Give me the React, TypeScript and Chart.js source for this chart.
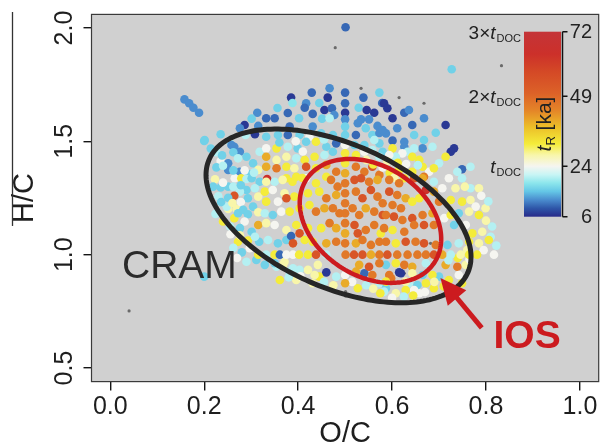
import { useEffect, useRef } from "react";
import { Chart, registerables } from "chart.js";

Chart.register(...registerables);

const FONT = "'Liberation Sans', Arial, Helvetica, sans-serif";

// Axis ticks and limits
const xTicks = [0, 0.2, 0.4, 0.6, 0.8, 1.0];
const yTicks = [0.5, 1.0, 1.5, 2.0];
const xLimits = [-0.04, 1.04];
const yLimits = [0.44, 2.06];

// Colour bar (t_R in ka)
const colorbarTicks = [6, 24, 49, 72];
const colorbarRange = [6, 72];
const docMultiples = [
  { value: 72, prefix: "3×" },
  { value: 49, prefix: "2×" },
  { value: 24, prefix: "" },
];

// Colour ramp for t_R
const rampStops = [6, 9, 12, 15, 18, 21, 24, 28, 32, 38, 44, 50, 58, 64, 72];
const rampColors = [
  [40, 42, 138], [46, 86, 168], [74, 140, 206], [100, 198, 230], [140, 230, 236],
  [200, 245, 245], [245, 245, 240], [248, 246, 170], [244, 236, 58], [236, 190, 40],
  [228, 132, 40], [220, 98, 40], [212, 72, 38], [204, 48, 42], [196, 52, 56],
];

// Samples: [O/C, H/C, t_R (ka)]
const bluePlume = [
  [0.158, 1.685, 12], [0.168, 1.668, 12], [0.177, 1.648, 12], [0.189, 1.626, 12],
  [0.501, 2.003, 10], [0.727, 1.818, 16],
  [0.429, 1.715, 10], [0.467, 1.734, 12], [0.385, 1.693, 7], [0.417, 1.668, 12], [0.463, 1.693, 7],
  [0.539, 1.693, 10], [0.573, 1.715, 16],
  [0.332, 1.602, 10], [0.350, 1.602, 10], [0.356, 1.647, 16], [0.378, 1.625, 10], [0.388, 1.669, 18],
  [0.414, 1.648, 10], [0.431, 1.621, 10], [0.445, 1.669, 16], [0.456, 1.638, 7], [0.472, 1.646, 10],
  [0.477, 1.616, 12], [0.529, 1.648, 16], [0.546, 1.638, 7], [0.562, 1.626, 7], [0.579, 1.669, 10],
  [0.534, 1.597, 12], [0.551, 1.597, 12], [0.402, 1.602, 16], [0.451, 1.600, 16], [0.467, 1.602, 20],
  [0.382, 1.565, 10], [0.431, 1.565, 12], [0.527, 1.580, 12], [0.544, 1.558, 16], [0.569, 1.568, 12],
  [0.523, 1.528, 10], [0.558, 1.528, 16], [0.573, 1.537, 12],
  [0.313, 1.626, 12], [0.301, 1.600, 16], [0.286, 1.572, 7], [0.276, 1.558, 12], [0.235, 1.531, 16],
  [0.200, 1.502, 16], [0.253, 1.502, 20], [0.288, 1.528, 20], [0.308, 1.531, 7], [0.315, 1.568, 12],
  [0.583, 1.668, 7], [0.590, 1.646, 7], [0.626, 1.626, 10], [0.636, 1.638, 12], [0.668, 1.602, 12],
  [0.601, 1.602, 7], [0.643, 1.572, 10], [0.611, 1.558, 12], [0.714, 1.572, 7], [0.693, 1.538, 16],
  [0.647, 1.528, 16], [0.587, 1.535, 12], [0.668, 1.506, 16], [0.686, 1.476, 20], [0.601, 1.503, 10],
  [0.626, 1.498, 12], [0.573, 1.491, 16], [0.626, 1.476, 12], [0.665, 1.469, 12], [0.732, 1.469, 7],
  [0.725, 1.454, 7], [0.749, 1.377, 10], [0.767, 1.388, 20], [0.580, 1.454, 16],
];

const cramFringe = [
  [0.318, 1.454, 20], [0.264, 1.476, 12], [0.276, 1.454, 12], [0.290, 1.432, 16], [0.304, 1.403, 16],
  [0.235, 1.413, 24], [0.251, 1.403, 12], [0.251, 1.374, 12], [0.276, 1.366, 12], [0.295, 1.356, 16],
  [0.315, 1.374, 28], [0.223, 1.333, 28], [0.265, 1.337, 24], [0.279, 1.337, 32], [0.201, 1.506, 16],
  [0.258, 1.484, 12],
  [0.290, 1.334, 20], [0.301, 1.337, 16], [0.318, 1.322, 16], [0.235, 1.296, 16], [0.251, 1.300, 16],
  [0.290, 1.285, 16], [0.308, 1.293, 20], [0.276, 1.278, 20], [0.264, 1.260, 54], [0.251, 1.251, 16],
  [0.293, 1.249, 16], [0.315, 1.256, 28], [0.251, 1.202, 28], [0.269, 1.202, 28], [0.304, 1.212, 16],
  [0.293, 1.178, 16], [0.315, 1.187, 28], [0.264, 1.161, 32], [0.286, 1.146, 24], [0.315, 1.131, 40],
  [0.276, 1.117, 16], [0.301, 1.101, 16], [0.293, 1.062, 32], [0.317, 1.057, 16], [0.200, 0.903, 16],
  [0.219, 1.300, 16], [0.248, 1.212, 20], [0.272, 1.183, 16], [0.240, 1.146, 32], [0.255, 1.124, 20],
  [0.308, 1.079, 20], [0.272, 1.057, 32], [0.297, 1.028, 24], [0.290, 0.969, 20], [0.311, 0.977, 16],
  [0.329, 0.955, 16], [0.354, 0.947, 20], [0.371, 0.969, 28], [0.382, 0.925, 20], [0.421, 0.933, 28],
  [0.445, 0.903, 32], [0.361, 0.888, 32], [0.396, 0.888, 28], [0.431, 0.874, 28], [0.481, 0.903, 20],
  [0.527, 0.852, 32], [0.541, 0.918, 10], [0.573, 0.874, 20], [0.598, 0.896, 46], [0.619, 0.918, 7],
  [0.587, 0.852, 16], [0.636, 0.874, 20], [0.672, 0.874, 32], [0.689, 0.852, 32], [0.700, 0.903, 16],
  [0.658, 0.830, 24], [0.334, 1.334, 64],
  [0.332, 1.520, 16], [0.357, 1.528, 16], [0.378, 1.528, 10], [0.403, 1.528, 16], [0.424, 1.520, 24],
  [0.449, 1.535, 16], [0.474, 1.528, 16], [0.562, 1.506, 20], [0.580, 1.550, 12], [0.332, 1.469, 24],
  [0.354, 1.469, 32], [0.378, 1.476, 20], [0.399, 1.469, 16], [0.417, 1.498, 16], [0.438, 1.498, 32],
  [0.460, 1.476, 16], [0.481, 1.491, 10], [0.520, 1.484, 16], [0.541, 1.484, 16], [0.558, 1.462, 20],
  [0.332, 1.432, 40], [0.354, 1.418, 28], [0.375, 1.432, 28], [0.396, 1.425, 20], [0.414, 1.418, 32],
  [0.435, 1.432, 32], [0.456, 1.440, 20], [0.474, 1.454, 16], [0.523, 1.440, 32], [0.541, 1.454, 24],
  [0.573, 1.432, 20], [0.332, 1.388, 40], [0.354, 1.381, 46], [0.375, 1.388, 32], [0.392, 1.381, 28],
  [0.417, 1.388, 54], [0.438, 1.381, 32], [0.460, 1.396, 40], [0.481, 1.366, 46], [0.523, 1.388, 46],
  [0.541, 1.366, 46], [0.558, 1.388, 54], [0.573, 1.352, 46], [0.375, 1.337, 32], [0.396, 1.344, 32],
  [0.417, 1.337, 24], [0.460, 1.344, 32],
  [0.601, 1.469, 32], [0.633, 1.454, 20], [0.647, 1.469, 20], [0.714, 1.432, 32], [0.700, 1.403, 20],
  [0.679, 1.366, 24], [0.689, 1.381, 32], [0.739, 1.366, 20], [0.721, 1.337, 24], [0.658, 1.418, 32],
  [0.643, 1.432, 32], [0.622, 1.447, 24], [0.608, 1.432, 20], [0.594, 1.440, 24], [0.665, 1.388, 32],
  [0.643, 1.366, 32], [0.668, 1.344, 46], [0.615, 1.374, 32], [0.626, 1.337, 32],
  [0.689, 1.322, 20], [0.749, 1.337, 20], [0.767, 1.293, 20], [0.785, 1.293, 28], [0.707, 1.293, 24],
  [0.735, 1.293, 28], [0.725, 1.241, 32], [0.749, 1.234, 32], [0.767, 1.241, 28], [0.799, 1.205, 28],
  [0.778, 1.212, 24], [0.711, 1.161, 24], [0.725, 1.175, 32], [0.742, 1.183, 16], [0.764, 1.190, 28],
  [0.785, 1.175, 32], [0.813, 1.124, 20], [0.732, 1.131, 16], [0.757, 1.131, 24], [0.771, 1.094, 32],
  [0.792, 1.101, 28], [0.810, 1.079, 20], [0.718, 1.043, 16], [0.742, 1.050, 20], [0.764, 1.057, 32],
  [0.785, 1.050, 28], [0.806, 1.065, 32], [0.714, 0.955, 40], [0.739, 0.947, 46], [0.757, 0.955, 28],
  [0.742, 0.910, 24], [0.749, 0.874, 32], [0.721, 0.888, 32],
  [0.587, 0.955, 16], [0.608, 0.962, 32], [0.626, 0.955, 46], [0.643, 0.947, 40], [0.672, 0.962, 20],
  [0.615, 0.922, 7], [0.594, 0.910, 46], [0.643, 0.918, 28], [0.665, 0.910, 16], [0.686, 0.910, 32],
  [0.587, 0.881, 32], [0.629, 0.881, 28], [0.654, 0.866, 16], [0.647, 0.844, 24], [0.583, 0.837, 20],
  [0.608, 0.830, 28], [0.629, 0.844, 32],
  [0.368, 0.955, 28], [0.403, 0.933, 20], [0.442, 0.955, 28], [0.460, 0.922, 7], [0.530, 0.955, 40],
  [0.551, 0.947, 54], [0.573, 0.962, 46], [0.523, 0.925, 40], [0.558, 0.910, 46], [0.435, 0.910, 28],
  [0.350, 0.962, 16], [0.389, 0.940, 20],
];

// Further formulas on the diagonal series fanning out from the core
const crossSpokes = [
  [0.214, 1.468, 16], [0.226, 1.452, 20], [0.238, 1.438, 16], [0.262, 1.452, 16], [0.272, 1.425, 20],
  [0.226, 1.385, 16], [0.240, 1.392, 20], [0.262, 1.372, 16], [0.286, 1.372, 24], [0.306, 1.362, 20],
  [0.240, 1.318, 24], [0.262, 1.300, 20], [0.278, 1.306, 16], [0.230, 1.258, 20], [0.278, 1.232, 24],
  [0.236, 1.232, 16], [0.260, 1.228, 28], [0.283, 1.198, 16], [0.224, 1.180, 20], [0.256, 1.090, 24],
  [0.276, 1.085, 28], [0.262, 1.030, 20], [0.280, 1.010, 16], [0.270, 0.985, 24],
  [0.395, 1.500, 24], [0.360, 1.495, 16], [0.455, 1.508, 20], [0.590, 1.412, 28], [0.612, 1.405, 32],
  [0.630, 1.400, 24], [0.655, 1.395, 20], [0.410, 1.455, 24], [0.545, 1.418, 28], [0.560, 1.398, 32],
  [0.580, 1.385, 24], [0.595, 1.360, 32], [0.605, 1.340, 28],
  [0.455, 0.880, 20], [0.475, 0.865, 28], [0.515, 0.880, 24], [0.545, 0.865, 20], [0.560, 0.850, 28],
  [0.575, 0.830, 32], [0.600, 0.810, 24], [0.625, 0.815, 20], [0.645, 0.820, 32], [0.670, 0.835, 24],
  [0.690, 0.880, 28], [0.710, 0.860, 32], [0.405, 0.905, 24], [0.380, 0.900, 20],
  [0.800, 1.150, 28], [0.795, 1.020, 24], [0.822, 1.040, 20], [0.760, 1.020, 28], [0.740, 0.985, 32],
  [0.765, 0.980, 24], [0.720, 0.975, 20], [0.790, 1.260, 24], [0.805, 1.235, 20], [0.755, 1.300, 28],
];

const iosCore = [
  [0.332, 1.322, 28], [0.350, 1.322, 20], [0.367, 1.330, 28], [0.388, 1.322, 32], [0.409, 1.338, 32],
  [0.438, 1.315, 32], [0.470, 1.330, 46], [0.484, 1.300, 46], [0.520, 1.330, 54], [0.534, 1.337, 54],
  [0.551, 1.322, 46], [0.569, 1.330, 40],
  [0.329, 1.278, 32], [0.346, 1.285, 24], [0.371, 1.271, 28], [0.392, 1.256, 32], [0.332, 1.234, 32],
  [0.357, 1.234, 24], [0.375, 1.249, 54], [0.421, 1.271, 32], [0.445, 1.278, 32], [0.460, 1.249, 46],
  [0.481, 1.263, 40], [0.523, 1.278, 46], [0.537, 1.249, 54], [0.555, 1.285, 54], [0.569, 1.256, 46],
  [0.580, 1.227, 46],
  [0.329, 1.183, 20], [0.346, 1.175, 16], [0.364, 1.190, 24], [0.382, 1.190, 32], [0.403, 1.205, 32],
  [0.424, 1.219, 32], [0.438, 1.190, 46], [0.456, 1.205, 40], [0.474, 1.205, 46], [0.488, 1.183, 46],
  [0.516, 1.205, 46], [0.530, 1.175, 46], [0.544, 1.205, 40], [0.562, 1.190, 46], [0.580, 1.175, 54],
  [0.332, 1.139, 28], [0.350, 1.131, 24], [0.375, 1.109, 28], [0.396, 1.131, 32], [0.403, 1.094, 54],
  [0.421, 1.117, 32], [0.449, 1.117, 32], [0.467, 1.139, 46], [0.481, 1.117, 40], [0.520, 1.131, 54],
  [0.527, 1.094, 54], [0.544, 1.109, 46], [0.562, 1.131, 46], [0.576, 1.094, 32],
  [0.336, 1.065, 20], [0.357, 1.050, 16], [0.375, 1.065, 16], [0.385, 1.082, 10], [0.389, 1.050, 54],
  [0.414, 1.065, 32], [0.431, 1.057, 32], [0.460, 1.050, 40], [0.481, 1.057, 46], [0.523, 1.050, 40],
  [0.537, 1.065, 46], [0.555, 1.043, 46], [0.573, 1.057, 46],
  [0.594, 1.330, 46], [0.615, 1.315, 46], [0.647, 1.337, 54], [0.665, 1.337, 40], [0.689, 1.278, 40],
  [0.672, 1.285, 64], [0.658, 1.249, 32], [0.594, 1.278, 54], [0.611, 1.263, 46], [0.629, 1.249, 40],
  [0.643, 1.234, 32], [0.601, 1.219, 46], [0.619, 1.205, 46], [0.700, 1.234, 46], [0.587, 1.175, 46],
  [0.604, 1.168, 54], [0.622, 1.153, 46], [0.643, 1.161, 54], [0.665, 1.175, 46], [0.686, 1.183, 40],
  [0.583, 1.117, 46], [0.601, 1.109, 32], [0.626, 1.101, 46], [0.647, 1.131, 46], [0.668, 1.131, 54],
  [0.689, 1.131, 46], [0.587, 1.057, 46], [0.608, 1.050, 32], [0.629, 1.057, 54], [0.650, 1.057, 46],
  [0.668, 1.050, 54], [0.693, 1.043, 46],
];

// Series along H/C = 1.0
const hc1Row = [
  [0.315, 1.0, 32], [0.332, 1.0, 20], [0.350, 1.0, 32], [0.361, 1.0, 10], [0.375, 1.0, 24],
  [0.389, 1.0, 24], [0.402, 1.0, 32], [0.421, 1.0, 32], [0.438, 1.0, 54], [0.460, 1.0, 20],
  [0.501, 1.0, 46], [0.519, 1.0, 54], [0.537, 1.0, 54], [0.555, 1.0, 40], [0.573, 1.0, 46],
  [0.590, 1.0, 54], [0.611, 1.0, 46], [0.633, 1.0, 46], [0.654, 1.0, 46], [0.672, 1.0, 46],
  [0.689, 1.0, 54], [0.707, 1.0, 40], [0.725, 1.0, 20], [0.746, 1.0, 28], [0.764, 1.0, 32],
  [0.781, 1.0, 32], [0.817, 1.0, 24],
];

// Series along O/C = 0.5
const oc05Column = [
  [0.5, 1.715, 10], [0.5, 1.668, 10], [0.5, 1.626, 7], [0.5, 1.597, 12], [0.5, 1.565, 16],
  [0.5, 1.528, 16], [0.5, 1.484, 24], [0.5, 1.447, 32], [0.5, 1.403, 32], [0.5, 1.359, 40],
  [0.5, 1.315, 46], [0.5, 1.271, 46], [0.5, 1.227, 46], [0.5, 1.183, 46], [0.5, 1.139, 46],
  [0.5, 1.094, 40], [0.5, 1.050, 46], [0.5, 0.910, 24], [0.5, 0.874, 40],
];

// Formulas without a t_R estimate: [O/C, H/C]
const traceDots = [
  [0.479, 1.913], [0.534, 1.734], [0.833, 1.834], [0.615, 1.693], [0.668, 1.668],
  [0.04, 0.752], [0.501, 0.837], [0.501, 0.818], [0.682, 1.050], [0.718, 1.050], [0.626, 0.918],
];

// Region outlines in data units: x = cx + ux cos t + vx sin t, y = cy + uy cos t + vy sin t
const cramEllipse = { cx: 0.486, cy: 1.171, ux: 0.2755, uy: -0.2492, vx: -0.0609, vy: -0.2911 };
const iosEllipse = { cx: 0.554, cy: 1.149, ux: 0.137, uy: -0.181, vx: -0.0626, vy: -0.205 };

const cramLabel = { text: "CRAM", x: 0.025, y: 0.897 };
const iosLabel = { text: "IOS", x: 0.816, y: 0.588 };
const iosArrow = { tail: [0.791, 0.677], tip: [0.703, 0.897] };

const RED = "#cc1b1f";

function rampColor(t: number): string {
  let c = rampColors[rampColors.length - 1];
  if (t <= rampStops[0]) c = rampColors[0];
  else {
    for (let i = 1; i < rampStops.length; i++) {
      if (t <= rampStops[i]) {
        const f = (t - rampStops[i - 1]) / (rampStops[i] - rampStops[i - 1]);
        const a = rampColors[i - 1];
        const b = rampColors[i];
        c = [0, 1, 2].map((k) => Math.round(a[k] + (b[k] - a[k]) * f));
        break;
      }
    }
  }
  return `rgb(${c[0]},${c[1]},${c[2]})`;
}

// Colour bar box (legend area, pixels)
const CB = { left: 524, right: 561, top: 31.7, bottom: 216.7 };
const cbY = (v: number) =>
  CB.bottom - ((v - colorbarRange[0]) / (colorbarRange[1] - colorbarRange[0])) * (CB.bottom - CB.top);

const decorations = {
  id: "decorations",
  beforeDraw(chart: any) {
    const { ctx, chartArea: a } = chart;
    ctx.save();
    ctx.fillStyle = "#ffffff";
    ctx.fillRect(0, 0, chart.width, chart.height);
    ctx.fillStyle = "#d0d0d0";
    ctx.fillRect(a.left, a.top, a.right - a.left, a.bottom - a.top);
    ctx.restore();
  },
  afterDatasetsDraw(chart: any) {
    const { ctx, chartArea: a } = chart;
    const xs = chart.scales.x;
    const ys = chart.scales.y;
    const X = (v: number) => xs.getPixelForValue(v);
    const Y = (v: number) => ys.getPixelForValue(v);
    ctx.save();

    const drawEllipse = (e: any, color: string, w: number) => {
      ctx.beginPath();
      for (let i = 0; i <= 200; i++) {
        const t = (i / 200) * Math.PI * 2;
        const px = X(e.cx + e.ux * Math.cos(t) + e.vx * Math.sin(t));
        const py = Y(e.cy + e.uy * Math.cos(t) + e.vy * Math.sin(t));
        if (i === 0) ctx.moveTo(px, py);
        else ctx.lineTo(px, py);
      }
      ctx.closePath();
      ctx.strokeStyle = color;
      ctx.lineWidth = w;
      ctx.stroke();
    };
    drawEllipse(cramEllipse, "#262626", 5);
    drawEllipse(iosEllipse, RED, 4.5);

    // arrow to the IOS region
    const sx = X(iosArrow.tail[0]);
    const sy = Y(iosArrow.tail[1]);
    const tx = X(iosArrow.tip[0]);
    const ty = Y(iosArrow.tip[1]);
    const ang = Math.atan2(ty - sy, tx - sx);
    const headLen = 26;
    const headHalf = 12;
    const bx = tx - headLen * Math.cos(ang);
    const by = ty - headLen * Math.sin(ang);
    ctx.strokeStyle = RED;
    ctx.fillStyle = RED;
    ctx.lineWidth = 5;
    ctx.beginPath();
    ctx.moveTo(sx, sy);
    ctx.lineTo(bx + 2 * Math.cos(ang), by + 2 * Math.sin(ang));
    ctx.stroke();
    ctx.beginPath();
    ctx.moveTo(tx, ty);
    ctx.lineTo(bx + headHalf * Math.sin(ang), by - headHalf * Math.cos(ang));
    ctx.lineTo(bx - headHalf * Math.sin(ang), by + headHalf * Math.cos(ang));
    ctx.closePath();
    ctx.fill();

    // region labels
    ctx.textAlign = "left";
    ctx.textBaseline = "alphabetic";
    ctx.fillStyle = "#2b2b2b";
    ctx.font = `39px ${FONT}`;
    ctx.fillText(cramLabel.text, X(cramLabel.x), Y(cramLabel.y));
    ctx.fillStyle = RED;
    ctx.font = `bold 39px ${FONT}`;
    ctx.fillText(iosLabel.text, X(iosLabel.x), Y(iosLabel.y));

    // colour bar
    const grad = ctx.createLinearGradient(0, CB.bottom, 0, CB.top);
    rampStops.forEach((s, i) => {
      const c = rampColors[i];
      grad.addColorStop(
        (s - colorbarRange[0]) / (colorbarRange[1] - colorbarRange[0]),
        `rgb(${c[0]},${c[1]},${c[2]})`
      );
    });
    ctx.fillStyle = grad;
    ctx.fillRect(CB.left, CB.top, CB.right - CB.left, CB.bottom - CB.top);

    const axX = CB.right + 1.5;
    ctx.strokeStyle = "#111";
    ctx.lineWidth = 1.5;
    ctx.beginPath();
    ctx.moveTo(axX, CB.top);
    ctx.lineTo(axX, CB.bottom);
    colorbarTicks.forEach((v) => {
      ctx.moveTo(axX, cbY(v));
      ctx.lineTo(axX + 5, cbY(v));
    });
    ctx.stroke();
    ctx.fillStyle = "#222";
    ctx.font = `20px ${FONT}`;
    ctx.textAlign = "right";
    ctx.textBaseline = "middle";
    colorbarTicks.forEach((v) => ctx.fillText(String(v), 592, cbY(v) + 1));

    // multiples of t_DOC beside the bar
    ctx.textBaseline = "alphabetic";
    docMultiples.forEach((d) => {
      const base = cbY(d.value) + 7;
      ctx.font = `19px ${FONT}`;
      const w1 = ctx.measureText(d.prefix).width;
      ctx.font = `italic 19px ${FONT}`;
      const w2 = ctx.measureText("t").width;
      ctx.font = `11px ${FONT}`;
      const w3 = ctx.measureText("DOC").width;
      let x = CB.left - 3 - (w1 + w2 + 1 + w3);
      ctx.textAlign = "left";
      ctx.font = `19px ${FONT}`;
      ctx.fillText(d.prefix, x, base);
      x += w1;
      ctx.font = `italic 19px ${FONT}`;
      ctx.fillText("t", x, base);
      x += w2 + 1;
      ctx.font = `11px ${FONT}`;
      ctx.fillText("DOC", x, base + 3);
    });

    // bar title, rotated
    ctx.save();
    ctx.translate(551, 124);
    ctx.rotate(-Math.PI / 2);
    ctx.font = `italic 21px ${FONT}`;
    const tw = ctx.measureText("t").width;
    ctx.font = `13px ${FONT}`;
    const rw = ctx.measureText("R").width;
    ctx.font = `21px ${FONT}`;
    const kw = ctx.measureText(" [ka]").width;
    let cx = -(tw + rw + kw) / 2;
    ctx.fillStyle = "#222";
    ctx.textAlign = "left";
    ctx.font = `italic 21px ${FONT}`;
    ctx.fillText("t", cx, 0);
    cx += tw;
    ctx.font = `13px ${FONT}`;
    ctx.fillText("R", cx, 4);
    cx += rw;
    ctx.font = `21px ${FONT}`;
    ctx.fillText(" [ka]", cx, 0);
    ctx.restore();

    // plot frame
    ctx.strokeStyle = "#3a3a3a";
    ctx.lineWidth = 1.2;
    ctx.strokeRect(a.left, a.top, a.right - a.left, a.bottom - a.top);

    // y tick labels, rotated
    ctx.fillStyle = "#1e1e1e";
    ctx.font = `25px ${FONT}`;
    ctx.textAlign = "center";
    ctx.textBaseline = "alphabetic";
    yTicks.forEach((v) => {
      ctx.save();
      ctx.translate(a.left - 20, Y(v));
      ctx.rotate(-Math.PI / 2);
      ctx.fillText(v.toFixed(1), 0, 0);
      ctx.restore();
    });

    // axis titles
    ctx.font = `29px ${FONT}`;
    ctx.textAlign = "center";
    ctx.fillText("O/C", (a.left + a.right) / 2, 442);
    const midY = (a.top + a.bottom) / 2;
    ctx.save();
    ctx.translate(33, midY);
    ctx.rotate(-Math.PI / 2);
    ctx.fillText("H/C", 0, 0);
    const hw = ctx.measureText("H/C").width;
    ctx.restore();
    ctx.strokeStyle = "#333";
    ctx.lineWidth = 1.3;
    ctx.beginPath();
    ctx.moveTo(12.5, 12);
    ctx.lineTo(12.5, midY + hw / 2 + 3);
    ctx.stroke();

    ctx.restore();
  },
};

const toPoints = (rows: number[][]) => rows.map(([x, y, t]) => ({ x, y, t }));

export default function App() {
  const canvasRef = useRef<HTMLCanvasElement | null>(null);

  useEffect(() => {
    const canvas = canvasRef.current;
    if (!canvas) return;
    const samples = [
      ...toPoints(bluePlume),
      ...toPoints(cramFringe),
      ...toPoints(crossSpokes),
      ...toPoints(iosCore),
      ...toPoints(hc1Row),
      ...toPoints(oc05Column),
    ];
    const chart = new Chart(canvas, {
      type: "scatter",
      data: {
        datasets: [
          {
            label: "t_R",
            data: samples as any,
            pointRadius: 4.3,
            pointHoverRadius: 4.3,
            pointBorderWidth: 0,
            pointBackgroundColor: (ctx: any) => rampColor(ctx.raw ? ctx.raw.t : 24),
          },
          {
            label: "no estimate",
            data: traceDots.map(([x, y]) => ({ x, y })),
            pointRadius: 1.6,
            pointBorderWidth: 0,
            pointBackgroundColor: "#6a6a6a",
          },
        ],
      },
      options: {
        animation: false,
        responsive: false,
        devicePixelRatio: 1,
        events: [],
        layout: { padding: { left: 0, right: 2.5, top: 14.4, bottom: 0 } },
        plugins: { legend: { display: false }, tooltip: { enabled: false } },
        scales: {
          x: {
            type: "linear",
            min: xLimits[0],
            max: xLimits[1],
            afterBuildTicks: (s: any) => {
              s.ticks = xTicks.map((v) => ({ value: v }));
            },
            afterFit: (s: any) => {
              s.height = 63.4;
            },
            border: { display: false },
            grid: { drawOnChartArea: false, drawTicks: true, tickLength: 9, color: "#151515", lineWidth: 1.4 },
            ticks: {
              autoSkip: false,
              maxRotation: 0,
              padding: 2,
              color: "#1e1e1e",
              font: { family: FONT, size: 25 },
              callback: (v: any) => Number(v).toFixed(1),
            },
          },
          y: {
            type: "linear",
            min: yLimits[0],
            max: yLimits[1],
            afterBuildTicks: (s: any) => {
              s.ticks = yTicks.map((v) => ({ value: v }));
            },
            afterFit: (s: any) => {
              s.width = 91.5;
            },
            border: { display: false },
            grid: { drawOnChartArea: false, drawTicks: true, tickLength: 8, color: "#151515", lineWidth: 1.4 },
            ticks: { display: false },
          },
        },
      },
      plugins: [decorations],
    });
    return () => chart.destroy();
  }, []);

  return (
    <div style={{ position: "absolute", left: 0, top: 0, width: 603, height: 445, background: "#fff" }}>
      <canvas ref={canvasRef} width={603} height={445} style={{ display: "block" }} />
    </div>
  );
}
